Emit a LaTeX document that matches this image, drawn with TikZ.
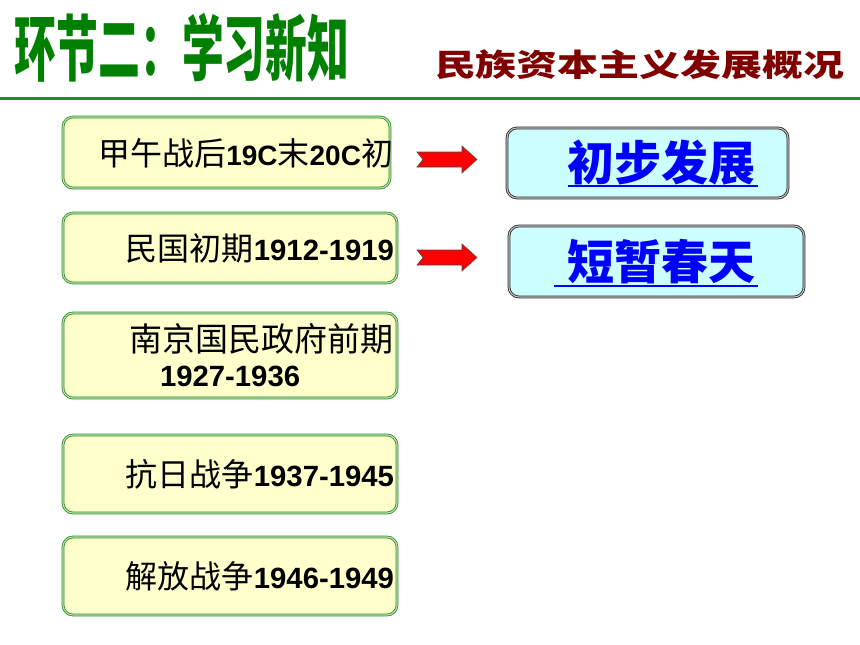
\documentclass[tikz,border=0pt]{standalone}
\usepackage{fontspec}
\newfontfamily\cjk{Noto Sans CJK SC}
\newfontfamily\cjkblk{Noto Sans CJK SC Black}
\newfontfamily\latf{Liberation Sans}
\newcommand\myzh[1]{{\cjk\fontsize{32}{38}\selectfont #1}}
\newcommand\myzhb[1]{{\cjk\fontsize{33}{38}\selectfont #1}}
\newcommand\mydg[1]{{\latf\bfseries\fontsize{29.3}{34}\selectfont #1}}
\newcommand\mydgs[1]{{\latf\bfseries\fontsize{28}{34}\selectfont #1}}
\definecolor{titlegreen}{RGB}{0,128,0}
\definecolor{subred}{RGB}{128,0,0}
\definecolor{rulegreen}{RGB}{30,140,30}
\definecolor{lfill}{RGB}{255,255,204}
\definecolor{rfill}{RGB}{204,255,255}
\definecolor{lborder}{RGB}{40,140,40}
\definecolor{lgap}{RGB}{190,225,170}
\tikzset{
  lbox/.style={draw=lborder, double=lgap, double distance=1.1pt, line width=0.8pt,
    fill=lfill, rounded corners=10pt, inner sep=0pt},
  rbox/.style={draw=black!85, double=black!25, double distance=1.1pt, line width=0.8pt,
    fill=rfill, rounded corners=10pt, inner sep=0pt},
  txt/.style={inner sep=0pt, outer sep=0pt},
  bigblue/.style={txt, text=blue, font=\cjk\bfseries\fontsize{47}{52}\selectfont},
  uline/.style={draw=blue, line width=2pt},
  redarrow/.pic={\filldraw[fill=red, draw=black!70, line width=0.6pt]
    (-30,-7.5) -- (15,-7.5) -- (15,-13.5) -- (30,0) -- (15,13.5) -- (15,7.5)
    -- (-30,7.5) -- (-24,0) -- cycle;}
}
\begin{document}
\begin{tikzpicture}[x=1pt,y=-1pt]
\useasboundingbox (0,0) rectangle (860,645);
\fill[white] (0,0) rectangle (860,645);

% title
\node[txt, anchor=base west, text=titlegreen] (title) at (15,75)
  {\scalebox{0.58}[1]{\cjkblk\fontsize{72}{80}\selectfont 环节二：学习新知}};
\node[txt, anchor=base west, text=subred] (sub) at (435,76)
  {\scalebox{1.32}[1]{\cjkblk\fontsize{31}{36}\selectfont 民族资本主义发展概况}};
\coordinate (rl) at (0,98.5);
\coordinate (rr) at (860,98.5);
\draw[rulegreen, line width=3pt] (rl) -- (rr);

% left boxes
\node[lbox, minimum width=327pt, minimum height=71pt] (b1) at (226.5,152.5) {};
\node[lbox, minimum width=334pt, minimum height=70pt] (b2) at (230,248) {};
\node[lbox, minimum width=334pt, minimum height=85pt] (b3) at (230,355.5) {};
\node[lbox, minimum width=334pt, minimum height=78pt] (b4) at (230,474) {};
\node[lbox, minimum width=334pt, minimum height=78pt] (b5) at (230,576) {};

\node[txt, anchor=base east] (t1) at (393,165)
  {\myzh{甲午战后}\mydgs{19C}\myzh{末}\mydgs{20C}\myzh{初}};
\node[txt, anchor=base east] (t2) at (394,260) {\myzh{民国初期}\mydg{1912-1919}};
\node[txt, anchor=base east] (t3a) at (393,351) {\myzhb{南京国民政府前期}};
\node[txt, anchor=base west] (t3b) at (160,386) {\mydg{1927-1936}};
\node[txt, anchor=base east] (t4) at (394,486) {\myzh{抗日战争}\mydg{1937-1945}};
\node[txt, anchor=base east] (t5) at (394,588) {\myzh{解放战争}\mydg{1946-1949}};

% arrows
\pic at (447,159.5) {redarrow};
\pic at (447,257.5) {redarrow};

% right boxes
\node[rbox, minimum width=281pt, minimum height=70pt] (ra) at (647.5,163) {};
\node[rbox, minimum width=295pt, minimum height=71pt] (rb) at (656.5,261.5) {};
\node[bigblue, anchor=base west] (ta) at (567,180) {初步发展};
\node[bigblue, anchor=base west] (tb) at (567,279) {短暂春天};
\draw[uline] (ta.base west) ++(1,6) -- ++(190,0);
\draw[uline] (tb.base west) ++(-13,7) -- ++(204,0);
\end{tikzpicture}
\end{document}
